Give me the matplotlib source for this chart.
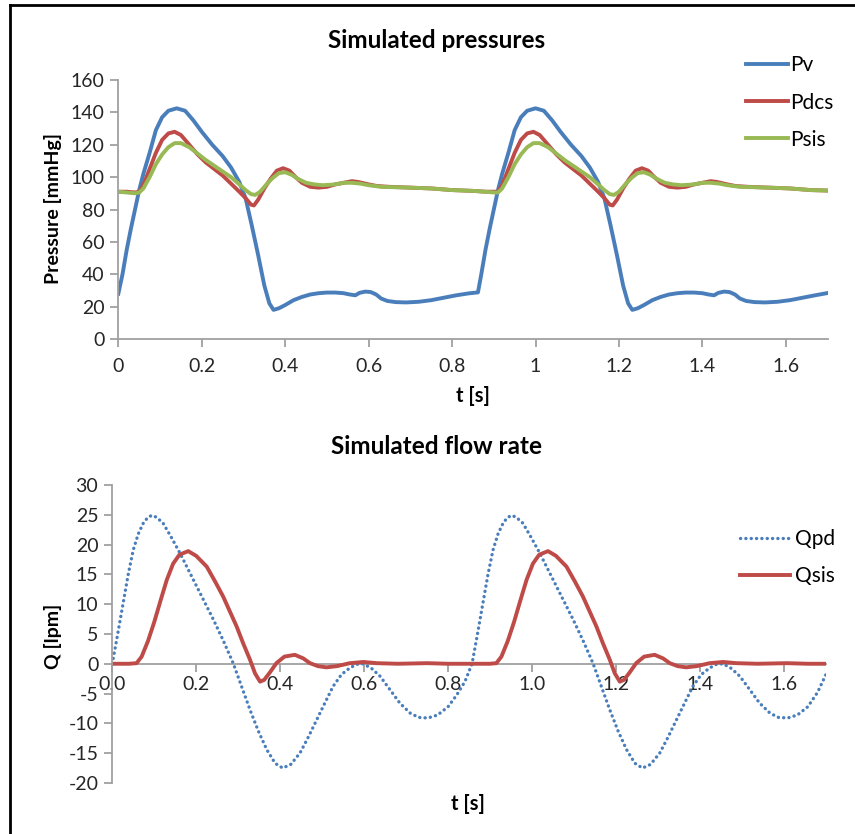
import matplotlib.pyplot as plt
from matplotlib.lines import Line2D
from matplotlib.ticker import MultipleLocator, FixedLocator

plt.rcParams['font.family'] = ['Lato', 'DejaVu Sans']
plt.rcParams['axes.unicode_minus'] = False

# ---------------- data ----------------
# ventricular pressure Pv [mmHg]
t_pv = [0.000, 0.010, 0.020, 0.030, 0.040, 0.050, 0.060, 0.075, 0.090, 0.105,
        0.120, 0.140, 0.160, 0.180, 0.200, 0.225, 0.250, 0.270, 0.290, 0.305,
        0.320, 0.335, 0.350, 0.362, 0.372, 0.385, 0.400, 0.420, 0.440, 0.460,
        0.480, 0.500, 0.520, 0.540, 0.555, 0.568, 0.578, 0.592, 0.605, 0.618,
        0.630, 0.645, 0.665, 0.690, 0.720, 0.750, 0.780, 0.810, 0.840, 0.862,
        0.870, 0.880, 0.890, 0.900, 0.910, 0.920, 0.935, 0.950, 0.965, 0.980,
        1.000, 1.020, 1.040, 1.060, 1.085, 1.110, 1.130, 1.150, 1.165, 1.180,
        1.195, 1.210, 1.222, 1.232, 1.245, 1.260, 1.280, 1.300, 1.320, 1.340,
        1.360, 1.380, 1.400, 1.415, 1.428, 1.438, 1.452, 1.465, 1.478, 1.490,
        1.505, 1.525, 1.550, 1.580, 1.610, 1.640, 1.670, 1.700]
pv = [28, 40, 55, 68, 80, 92, 102, 115, 129, 137,
      141, 142.5, 141, 135, 128, 120, 113, 106, 97, 87,
      70, 52, 33, 22, 18, 19, 21, 24, 26, 27.5,
      28.3, 28.7, 28.7, 28.3, 27.5, 27, 28.5, 29.3, 29, 27.5,
      25, 23.5, 22.8, 22.6, 23, 24, 25.5, 27, 28.2, 28.8,
      40, 55, 68, 80, 92, 102, 115, 129, 137, 141,
      142.5, 141, 135, 128, 120, 113, 106, 97, 87, 70,
      52, 33, 22, 18, 19, 21, 24, 26, 27.5, 28.3,
      28.7, 28.7, 28.3, 27.5, 27, 28.5, 29.3, 29, 27.5, 25,
      23.5, 22.8, 22.6, 23, 24, 25.5, 27, 28.4]

# Pdcs [mmHg]
t_pdcs = [0.000, 0.020, 0.040, 0.050, 0.060, 0.075, 0.090, 0.105, 0.120, 0.135,
          0.150, 0.170, 0.190, 0.210, 0.230, 0.250, 0.270, 0.290, 0.305, 0.318,
          0.325, 0.335, 0.350, 0.365, 0.380, 0.395, 0.410, 0.425, 0.440, 0.460,
          0.480, 0.500, 0.520, 0.540, 0.560, 0.575, 0.600, 0.620, 0.650, 0.700,
          0.750, 0.800, 0.850, 0.880, 0.910, 0.920, 0.935, 0.950, 0.965, 0.980,
          0.995, 1.010, 1.030, 1.050, 1.070, 1.090, 1.110, 1.130, 1.150, 1.165,
          1.178, 1.185, 1.195, 1.210, 1.225, 1.240, 1.255, 1.270, 1.285, 1.300,
          1.320, 1.340, 1.360, 1.380, 1.400, 1.420, 1.435, 1.460, 1.480, 1.510,
          1.560, 1.610, 1.660, 1.700]
pdcs = [91, 91, 90.5, 91, 95, 105, 115, 123, 127, 128,
        126, 120, 114, 109, 105, 101, 96, 91, 87, 83,
        82.5, 86, 93, 99, 104, 105.5, 104, 100, 96.5, 94,
        93.5, 94, 95.5, 96.5, 97.5, 97, 95.5, 94.5, 94, 93.5,
        93, 92, 91.5, 91, 91, 95, 105, 115, 123, 127,
        128, 126, 120, 114, 109, 105, 101, 96, 91, 87,
        83, 82.5, 86, 93, 99, 104, 105.5, 104, 100, 96.5,
        94, 93.5, 94, 95.5, 96.5, 97.5, 97, 95.5, 94.5, 94,
        93.5, 93, 92, 91.7]

# Psis [mmHg]
t_psis = [0.000, 0.020, 0.040, 0.050, 0.060, 0.075, 0.090, 0.105, 0.120, 0.135,
          0.150, 0.170, 0.190, 0.210, 0.230, 0.250, 0.270, 0.290, 0.305, 0.318,
          0.328, 0.340, 0.355, 0.370, 0.385, 0.400, 0.415, 0.430, 0.450, 0.470,
          0.490, 0.520, 0.540, 0.560, 0.580, 0.600, 0.630, 0.700, 0.750, 0.800,
          0.850, 0.880, 0.900, 0.910, 0.920, 0.935, 0.950, 0.965, 0.980, 0.995,
          1.010, 1.030, 1.050, 1.070, 1.090, 1.110, 1.130, 1.150, 1.165, 1.178,
          1.188, 1.200, 1.215, 1.230, 1.245, 1.260, 1.275, 1.290, 1.310, 1.330,
          1.350, 1.380, 1.400, 1.420, 1.440, 1.460, 1.490, 1.560, 1.610, 1.660,
          1.700]
psis = [91, 90.5, 90, 90.5, 93, 100, 108, 114, 118.5, 121,
        121, 118.5, 114.5, 110.5, 107, 103.5, 100, 95.5, 92, 89.5,
        89, 91, 95.5, 99.5, 102.5, 103, 101.5, 99, 96.5, 95.5,
        95, 95.5, 96.5, 96.5, 96, 95, 94, 93.5, 93, 92,
        91.5, 91, 90.5, 90.5, 93, 100, 108, 114, 118.5, 121,
        121, 118.5, 114.5, 110.5, 107, 103.5, 100, 95.5, 92, 89.5,
        89, 91, 95.5, 99.5, 102.5, 103, 101.5, 99, 96.5, 95.5,
        95, 95.5, 96.5, 96.5, 96, 95, 94, 93.5, 93, 92,
        91.7]

# Qpd [lpm]
t_qpd = [0.000, 0.013, 0.026, 0.038, 0.050, 0.062, 0.074, 0.084, 0.094, 0.105,
         0.121, 0.140, 0.161, 0.181, 0.201, 0.221, 0.241, 0.265, 0.288, 0.308,
         0.328, 0.348, 0.368, 0.388, 0.406, 0.425, 0.447, 0.467, 0.487, 0.507,
         0.526, 0.546, 0.566, 0.582, 0.598, 0.618, 0.638, 0.660, 0.685, 0.710,
         0.730, 0.752, 0.775, 0.800, 0.820, 0.840, 0.857, 0.870, 0.883, 0.895,
         0.907, 0.919, 0.931, 0.941, 0.951, 0.962, 0.978, 0.997, 1.018, 1.038,
         1.058, 1.078, 1.098, 1.122, 1.145, 1.165, 1.185, 1.205, 1.225, 1.245,
         1.263, 1.282, 1.304, 1.324, 1.344, 1.364, 1.383, 1.403, 1.423, 1.439,
         1.455, 1.475, 1.495, 1.517, 1.542, 1.567, 1.587, 1.609, 1.632, 1.657,
         1.680, 1.700]
qpd = [0, 5, 10.2, 15, 19.1, 21.8, 23.6, 24.5, 24.9, 24.6,
       23.6, 21.3, 18.6, 15.8, 13, 10.2, 7.4, 3.8, 0.1, -3.8,
       -7.7, -11.3, -14.4, -16.7, -17.5, -16.9, -15, -12.3, -9.4, -6.5,
       -3.8, -1.8, -0.7, -0.1, 0, -0.8, -2.1, -4.2, -6.6, -8.3,
       -9, -9.1, -8.6, -7.2, -5.3, -3, 0, 5, 10.2, 15,
       19.1, 21.8, 23.6, 24.5, 24.9, 24.6, 23.6, 21.3, 18.6, 15.8,
       13, 10.2, 7.4, 3.8, 0.1, -3.8, -7.7, -11.3, -14.4, -16.7,
       -17.5, -16.9, -15, -12.3, -9.4, -6.5, -3.8, -1.8, -0.7, -0.1,
       0, -0.8, -2.1, -4.2, -6.6, -8.3, -9, -9.1, -8.6, -7.2,
       -4.8, -1.8]

# Qsis [lpm]
t_qsis = [0.000, 0.040, 0.058, 0.070, 0.085, 0.100, 0.115, 0.130, 0.145, 0.160,
          0.181, 0.200, 0.225, 0.245, 0.264, 0.280, 0.296, 0.312, 0.328, 0.340,
          0.352, 0.362, 0.375, 0.391, 0.410, 0.435, 0.455, 0.471, 0.490, 0.510,
          0.535, 0.566, 0.598, 0.630, 0.680, 0.750, 0.800, 0.850, 0.900, 0.915,
          0.927, 0.942, 0.957, 0.972, 0.987, 1.002, 1.017, 1.038, 1.057, 1.082,
          1.102, 1.121, 1.137, 1.153, 1.169, 1.185, 1.197, 1.209, 1.219, 1.232,
          1.248, 1.267, 1.292, 1.312, 1.328, 1.347, 1.367, 1.392, 1.423, 1.455,
          1.487, 1.537, 1.607, 1.657, 1.700]
qsis = [0, 0, 0.1, 1.2, 3.8, 7, 10.6, 14.1, 16.8, 18.3,
        18.9, 18.1, 16.3, 13.8, 11.3, 8.8, 6.3, 3.4, 0.7, -1.6,
        -3, -2.7, -1.5, 0.1, 1.2, 1.5, 0.9, 0.1, -0.4, -0.6,
        -0.4, 0.1, 0.3, 0.1, 0, 0.1, 0, 0, 0, 0.1,
        1.2, 3.8, 7, 10.6, 14.1, 16.8, 18.3, 18.9, 18.1, 16.3,
        13.8, 11.3, 8.8, 6.3, 3.4, 0.7, -1.6, -3, -2.7, -1.5,
        0.1, 1.2, 1.5, 0.9, 0.1, -0.4, -0.6, -0.4, 0.1, 0.3,
        0.1, 0, 0.1, 0, 0]

x_ticks = [0, 0.2, 0.4, 0.6, 0.8, 1.0, 1.2, 1.4, 1.6]
x_labels_top = ['0', '0.2', '0.4', '0.6', '0.8', '1', '1.2', '1.4', '1.6']
x_labels_bot = ['0.0', '0.2', '0.4', '0.6', '0.8', '1.0', '1.2', '1.4', '1.6']

# colours (Excel 2010 palette)
c_blue = '#4a7ebb'
c_red = '#be4b48'
c_green = '#98b954'
c_axis = '#a0a0a0'
c_text = '#262626'

fig = plt.figure(figsize=(8.55, 8.34), dpi=100)

# ---------------- top: pressures ----------------
ax1 = fig.add_axes([0.1384, 0.5935, 0.8295, 0.3106])
ax1.plot(t_pv, pv, color=c_blue, lw=2.8, label='Pv', solid_joinstyle='round')
ax1.plot(t_pdcs, pdcs, color=c_red, lw=2.8, label='Pdcs', solid_joinstyle='round')
ax1.plot(t_psis, psis, color=c_green, lw=2.8, label='Psis', solid_joinstyle='round')
ax1.set_xlim(0, 1.7)
ax1.set_ylim(0, 160)
ax1.xaxis.set_major_locator(FixedLocator(x_ticks))
ax1.set_xticklabels(x_labels_top)
ax1.yaxis.set_major_locator(MultipleLocator(20))

# ---------------- bottom: flow rates ----------------
ax2 = fig.add_axes([0.1313, 0.0612, 0.8347, 0.3573])
ax2.plot(t_qpd, qpd, color=c_blue, lw=2.4, linestyle=(0, (0.05, 1.55)),
         dash_capstyle='round', label='Qpd')
ax2.plot(t_qsis, qsis, color=c_red, lw=2.8, label='Qsis', solid_joinstyle='round')
ax2.set_xlim(0, 1.7)
ax2.set_ylim(-20, 30)
ax2.xaxis.set_major_locator(FixedLocator(x_ticks))
ax2.set_xticklabels(x_labels_bot)
ax2.yaxis.set_major_locator(MultipleLocator(5))
ax2.spines['bottom'].set_position(('data', 0))

for ax in (ax1, ax2):
    for s in ('top', 'right'):
        ax.spines[s].set_visible(False)
    for s in ('left', 'bottom'):
        ax.spines[s].set_color(c_axis)
        ax.spines[s].set_linewidth(1.3)
    ax.tick_params(axis='both', colors=c_axis, labelcolor=c_text,
                   labelsize=14, length=6, width=1.3, direction='out')
    ax.tick_params(axis='x', pad=8)
    ax.tick_params(axis='y', pad=4)
    ax.set_facecolor('none')

ax2.tick_params(axis='x', pad=3)
ax2.spines['bottom'].set_zorder(0)

# legends
ax1.legend(loc='center left', bbox_to_anchor=(0.873, 0.877),
           bbox_transform=fig.transFigure, frameon=False, fontsize=15,
           handlelength=2.0, handletextpad=0.1, labelspacing=0.82,
           borderpad=0, borderaxespad=0)
ax2.legend(loc='center left', bbox_to_anchor=(0.866, 0.3315),
           bbox_transform=fig.transFigure, frameon=False, fontsize=15,
           handlelength=2.4, handletextpad=0.2, labelspacing=0.8,
           borderpad=0, borderaxespad=0)

# titles and axis labels
fig.text(437 / 855, 1 - 41 / 834, 'Simulated pressures', ha='center', va='center',
         fontsize=17.5, fontweight='bold', color='black')
fig.text(436 / 855, 1 - 446 / 834, 'Simulated flow rate', ha='center', va='center',
         fontsize=17.5, fontweight='bold', color='black')
fig.text(473 / 855, 1 - 396 / 834, 't [s]', ha='center', va='center',
         fontsize=14.5, fontweight='bold', color='black')
fig.text(468 / 855, 1 - 804 / 834, 't [s]', ha='center', va='center',
         fontsize=14.5, fontweight='bold', color='black')
fig.text(53 / 855, 1 - 208 / 834, 'Pressure [mmHg]', ha='center', va='center',
         rotation=90, fontsize=14, fontweight='bold', color='black')
fig.text(53 / 855, 1 - 636 / 834, 'Q [lpm]', ha='center', va='center',
         rotation=90, fontsize=14, fontweight='bold', color='black')

# frame around the picture (left and top only)
fig.add_artist(Line2D([10 / 855, 10 / 855], [0, 1 - 5 / 834], color='black', lw=2))
fig.add_artist(Line2D([10 / 855, 1], [1 - 5 / 834, 1 - 5 / 834], color='black', lw=2))

fig.savefig('out.png', dpi=100)
